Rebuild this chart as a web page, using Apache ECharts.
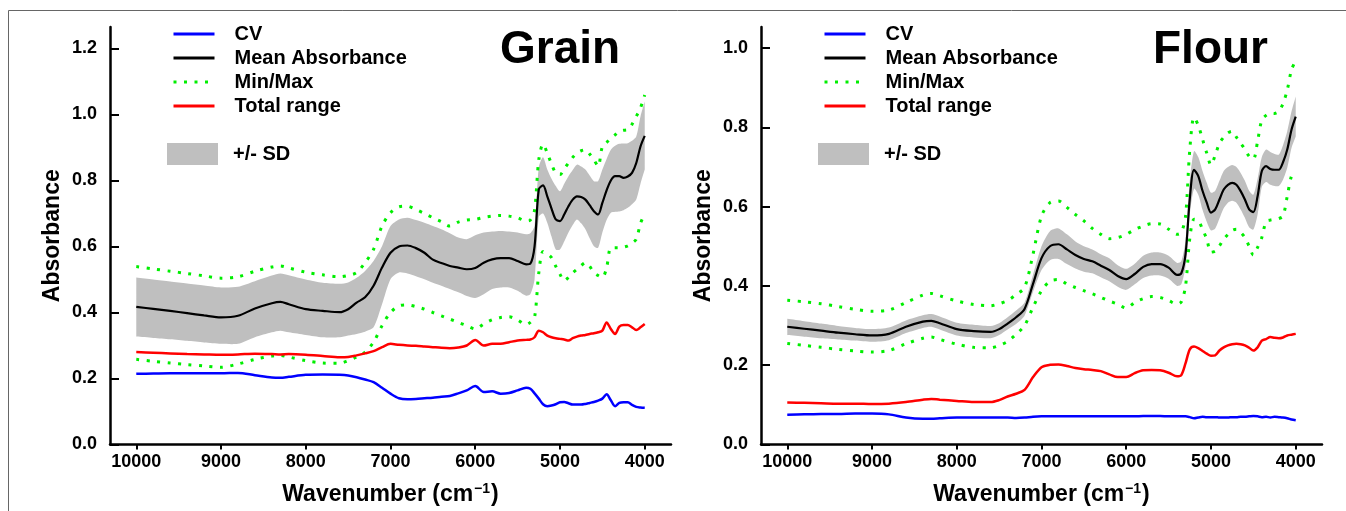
<!DOCTYPE html>
<html>
<head>
<meta charset="utf-8">
<title>Grain / Flour NIR spectra</title>
<script src="https://cdn.jsdelivr.net/npm/echarts@6/dist/echarts.min.js"></script>
<style>
  html, body { margin: 0; padding: 0; background: #fff; }
  #main { width: 1346px; height: 511px; }
</style>
</head>
<body>
<div id="main"></div>
<script>
// wavenumber grid (cm-1)
var wavenumbers = [10000, 9800, 9600, 9400, 9200, 9000, 8800, 8600, 8400, 8300, 8200,
    8000, 7800, 7600, 7500, 7400, 7300, 7200, 7100, 7000,
    6900, 6800, 6700, 6600, 6500, 6400, 6300, 6200, 6100, 6000,
    5900, 5800, 5700, 5600, 5500, 5400, 5350, 5300, 5250, 5200,
    5150, 5100, 5050, 5000, 4950, 4900, 4850, 4800, 4750, 4700,
    4650, 4600, 4550, 4500, 4450, 4400, 4350, 4300, 4250, 4200,
    4150, 4100, 4050, 4000];

var xTicks = [10000, 9000, 8000, 7000, 6000, 5000, 4000];
var grainYTicks = [0, 0.2, 0.4, 0.6, 0.8, 1.0, 1.2];
var flourYTicks = [0, 0.2, 0.4, 0.6, 0.8, 1.0];

// ---- Grain ----
var grainCv = [0.214, 0.215, 0.216, 0.216, 0.216, 0.216, 0.217, 0.210, 0.203, 0.202, 0.205,
    0.211, 0.212, 0.211, 0.209, 0.204, 0.197, 0.189, 0.172, 0.154,
    0.140, 0.137, 0.138, 0.140, 0.142, 0.145, 0.147, 0.155, 0.164, 0.177,
    0.159, 0.161, 0.154, 0.156, 0.164, 0.172, 0.169, 0.155, 0.139, 0.122,
    0.116, 0.118, 0.122, 0.128, 0.129, 0.125, 0.121, 0.121, 0.121, 0.123,
    0.126, 0.129, 0.133, 0.139, 0.152, 0.134, 0.116, 0.126, 0.128, 0.128,
    0.120, 0.114, 0.112, 0.111];
var grainRange = [0.280, 0.278, 0.276, 0.274, 0.273, 0.272, 0.273, 0.275, 0.274, 0.273, 0.274,
    0.272, 0.268, 0.264, 0.265, 0.270, 0.276, 0.283, 0.295, 0.305,
    0.302, 0.300, 0.299, 0.297, 0.295, 0.293, 0.292, 0.294, 0.300, 0.317,
    0.300, 0.305, 0.305, 0.310, 0.315, 0.317, 0.318, 0.325, 0.345, 0.340,
    0.330, 0.325, 0.322, 0.320, 0.318, 0.315, 0.322, 0.327, 0.330, 0.332,
    0.335, 0.337, 0.340, 0.345, 0.370, 0.350, 0.335, 0.357, 0.362, 0.362,
    0.355, 0.347, 0.355, 0.365];
var grainMean = [0.417, 0.411, 0.405, 0.398, 0.391, 0.385, 0.390, 0.412, 0.428, 0.432, 0.425,
    0.410, 0.405, 0.401, 0.410, 0.430, 0.446, 0.481, 0.536, 0.581,
    0.600, 0.603, 0.595, 0.581, 0.560, 0.550, 0.541, 0.536, 0.531, 0.535,
    0.551, 0.561, 0.565, 0.565, 0.556, 0.546, 0.548, 0.600, 0.773, 0.785,
    0.752, 0.715, 0.682, 0.677, 0.697, 0.722, 0.742, 0.752, 0.750, 0.742,
    0.725, 0.707, 0.697, 0.732, 0.770, 0.800, 0.813, 0.813, 0.808, 0.812,
    0.823, 0.853, 0.903, 0.935];
var grainMax = [0.539, 0.532, 0.525, 0.518, 0.511, 0.504, 0.508, 0.525, 0.538, 0.541, 0.535,
    0.522, 0.514, 0.508, 0.512, 0.521, 0.551, 0.591, 0.662, 0.702,
    0.720, 0.722, 0.712, 0.700, 0.687, 0.675, 0.662, 0.674, 0.680, 0.682,
    0.688, 0.692, 0.694, 0.692, 0.687, 0.677, 0.680, 0.710, 0.863, 0.910,
    0.883, 0.850, 0.823, 0.818, 0.835, 0.853, 0.870, 0.883, 0.890, 0.893,
    0.880, 0.863, 0.843, 0.903, 0.915, 0.928, 0.938, 0.949, 0.952, 0.954,
    0.970, 0.994, 1.020, 1.059];
var grainMin = [0.258, 0.252, 0.247, 0.242, 0.238, 0.234, 0.244, 0.258, 0.268, 0.270, 0.265,
    0.254, 0.247, 0.246, 0.254, 0.265, 0.280, 0.310, 0.360, 0.400,
    0.420, 0.423, 0.418, 0.410, 0.400, 0.390, 0.380, 0.370, 0.360, 0.350,
    0.365, 0.378, 0.385, 0.387, 0.377, 0.363, 0.370, 0.385, 0.520, 0.585,
    0.578, 0.566, 0.540, 0.516, 0.496, 0.506, 0.520, 0.531, 0.542, 0.551,
    0.540, 0.521, 0.512, 0.506, 0.536, 0.596, 0.596, 0.596, 0.598, 0.602,
    0.610, 0.622, 0.670, 0.700];
var grainSdHigh = [0.506, 0.500, 0.494, 0.488, 0.482, 0.476, 0.478, 0.495, 0.512, 0.518, 0.513,
    0.500, 0.490, 0.487, 0.491, 0.505, 0.526, 0.556, 0.601, 0.662,
    0.682, 0.687, 0.680, 0.672, 0.662, 0.652, 0.640, 0.627, 0.622, 0.634,
    0.642, 0.645, 0.647, 0.645, 0.642, 0.637, 0.640, 0.662, 0.840, 0.870,
    0.833, 0.805, 0.783, 0.767, 0.790, 0.813, 0.832, 0.848, 0.842, 0.833,
    0.815, 0.798, 0.798, 0.833, 0.865, 0.893, 0.905, 0.911, 0.912, 0.913,
    0.920, 0.933, 0.994, 1.039];
var grainSdLow = [0.327, 0.323, 0.319, 0.314, 0.309, 0.305, 0.305, 0.325, 0.340, 0.345, 0.340,
    0.332, 0.325, 0.325, 0.330, 0.335, 0.342, 0.355, 0.425, 0.501,
    0.521, 0.518, 0.510, 0.501, 0.490, 0.481, 0.471, 0.461, 0.450, 0.444,
    0.455, 0.471, 0.476, 0.476, 0.466, 0.451, 0.455, 0.500, 0.690, 0.700,
    0.672, 0.630, 0.591, 0.591, 0.615, 0.642, 0.665, 0.682, 0.670, 0.652,
    0.625, 0.601, 0.596, 0.642, 0.680, 0.702, 0.705, 0.706, 0.710, 0.717,
    0.728, 0.742, 0.790, 0.833];

// ---- Flour ----
var flourCv = [0.075, 0.076, 0.077, 0.077, 0.078, 0.078, 0.076, 0.068, 0.065, 0.065, 0.066,
    0.068, 0.068, 0.068, 0.068, 0.068, 0.067, 0.068, 0.070, 0.071,
    0.071, 0.071, 0.071, 0.071, 0.071, 0.071, 0.071, 0.071, 0.071, 0.071,
    0.071, 0.072, 0.072, 0.072, 0.071, 0.071, 0.071, 0.071, 0.069, 0.066,
    0.068, 0.070, 0.069, 0.069, 0.069, 0.068, 0.068, 0.068, 0.069, 0.069,
    0.070, 0.070, 0.071, 0.072, 0.071, 0.069, 0.070, 0.068, 0.070, 0.069,
    0.068, 0.066, 0.063, 0.061];
var flourRange = [0.106, 0.105, 0.104, 0.103, 0.103, 0.102, 0.103, 0.107, 0.113, 0.115, 0.113,
    0.110, 0.107, 0.107, 0.112, 0.121, 0.128, 0.138, 0.170, 0.195,
    0.201, 0.202, 0.198, 0.193, 0.190, 0.188, 0.185, 0.177, 0.170, 0.170,
    0.180, 0.187, 0.188, 0.187, 0.181, 0.172, 0.175, 0.205, 0.240, 0.247,
    0.243, 0.236, 0.229, 0.224, 0.225, 0.237, 0.245, 0.250, 0.253, 0.254,
    0.253, 0.250, 0.244, 0.237, 0.245, 0.262, 0.266, 0.271, 0.269, 0.268,
    0.270, 0.275, 0.277, 0.279];
var flourMean = [0.297, 0.292, 0.287, 0.282, 0.278, 0.275, 0.279, 0.297, 0.310, 0.312, 0.306,
    0.291, 0.286, 0.284, 0.291, 0.305, 0.321, 0.342, 0.405, 0.470,
    0.500, 0.505, 0.492, 0.478, 0.468, 0.462, 0.451, 0.440, 0.425, 0.417,
    0.430, 0.448, 0.455, 0.455, 0.446, 0.428, 0.432, 0.480, 0.620, 0.693,
    0.677, 0.640, 0.610, 0.585, 0.593, 0.618, 0.643, 0.655, 0.660, 0.655,
    0.639, 0.618, 0.593, 0.586, 0.626, 0.690, 0.702, 0.695, 0.693, 0.693,
    0.712, 0.744, 0.794, 0.827];
var flourMax = [0.364, 0.360, 0.355, 0.348, 0.341, 0.336, 0.339, 0.358, 0.377, 0.381, 0.375,
    0.362, 0.353, 0.350, 0.355, 0.363, 0.378, 0.396, 0.480, 0.576,
    0.610, 0.614, 0.598, 0.580, 0.564, 0.545, 0.530, 0.519, 0.522, 0.530,
    0.542, 0.551, 0.557, 0.556, 0.543, 0.530, 0.535, 0.576, 0.744, 0.825,
    0.805, 0.770, 0.735, 0.705, 0.730, 0.760, 0.775, 0.786, 0.790, 0.775,
    0.760, 0.745, 0.727, 0.720, 0.765, 0.819, 0.830, 0.836, 0.835, 0.840,
    0.860, 0.894, 0.945, 0.968];
var flourMin = [0.255, 0.250, 0.245, 0.240, 0.236, 0.233, 0.237, 0.254, 0.268, 0.271, 0.265,
    0.253, 0.245, 0.244, 0.250, 0.260, 0.278, 0.300, 0.346, 0.388,
    0.412, 0.416, 0.405, 0.396, 0.388, 0.380, 0.371, 0.362, 0.354, 0.344,
    0.358, 0.368, 0.373, 0.371, 0.363, 0.354, 0.360, 0.400, 0.520, 0.568,
    0.565, 0.543, 0.518, 0.485, 0.488, 0.501, 0.518, 0.530, 0.540, 0.543,
    0.535, 0.522, 0.500, 0.478, 0.497, 0.522, 0.562, 0.566, 0.568, 0.570,
    0.576, 0.626, 0.677, 0.690];
var flourSdHigh = [0.317, 0.311, 0.305, 0.299, 0.294, 0.291, 0.295, 0.313, 0.326, 0.329, 0.323,
    0.307, 0.302, 0.299, 0.306, 0.321, 0.338, 0.358, 0.428, 0.500,
    0.538, 0.545, 0.530, 0.512, 0.500, 0.492, 0.480, 0.470, 0.452, 0.443,
    0.456, 0.476, 0.484, 0.484, 0.476, 0.458, 0.462, 0.515, 0.665, 0.740,
    0.725, 0.690, 0.660, 0.635, 0.640, 0.665, 0.690, 0.700, 0.705, 0.700,
    0.685, 0.665, 0.640, 0.630, 0.670, 0.725, 0.744, 0.738, 0.733, 0.731,
    0.755, 0.790, 0.840, 0.878];
var flourSdLow = [0.276, 0.272, 0.268, 0.265, 0.262, 0.259, 0.263, 0.281, 0.294, 0.297, 0.290,
    0.275, 0.270, 0.268, 0.276, 0.290, 0.304, 0.325, 0.385, 0.440,
    0.465, 0.468, 0.455, 0.444, 0.436, 0.432, 0.422, 0.412, 0.398, 0.390,
    0.404, 0.420, 0.426, 0.426, 0.418, 0.400, 0.404, 0.450, 0.580, 0.645,
    0.630, 0.592, 0.562, 0.540, 0.545, 0.570, 0.596, 0.610, 0.615, 0.610,
    0.593, 0.572, 0.548, 0.542, 0.580, 0.650, 0.662, 0.655, 0.652, 0.652,
    0.668, 0.698, 0.748, 0.777];

var fontFamily = '"Liberation Sans", Arial, Helvetica, sans-serif';
var bandColor = '#bfbfbf';
var greenDot = '#00ee00';

function pairs(ys) {
    return wavenumbers.map(function (w, i) { return [w, ys[i]]; });
}

function line(name, ys, idx, color, width, dotted) {
    return {
        name: name,
        type: 'line',
        xAxisIndex: idx,
        yAxisIndex: idx,
        data: pairs(ys),
        smooth: 0.3,
        symbol: 'none',
        silent: true,
        z: 3,
        itemStyle: { color: color },
        lineStyle: {
            color: color,
            width: width,
            type: dotted ? [3, 7.5] : 'solid',
            cap: 'butt'
        }
    };
}

// grey +/- SD band: one polygon through the upper edge, back along the lower edge
// (end points doubled so the smoothing keeps the ends square)
function band(low, high, idx) {
    return {
        name: '+/- SD',
        type: 'custom',
        xAxisIndex: idx,
        yAxisIndex: idx,
        silent: true,
        z: 1,
        itemStyle: { color: bandColor },
        data: wavenumbers.map(function (w, i) { return [w, low[i], high[i]]; }),
        encode: { x: 0, y: [1, 2] },
        renderItem: function (params, api) {
            if (params.dataIndex !== 0) return;
            var n = wavenumbers.length, pts = [], i;
            pts.push(api.coord([wavenumbers[0], high[0]]));
            for (i = 0; i < n; i++) pts.push(api.coord([wavenumbers[i], high[i]]));
            pts.push(api.coord([wavenumbers[n - 1], high[n - 1]]));
            pts.push(api.coord([wavenumbers[n - 1], low[n - 1]]));
            for (i = n - 1; i >= 0; i--) pts.push(api.coord([wavenumbers[i], low[i]]));
            pts.push(api.coord([wavenumbers[0], low[0]]));
            return { type: 'polygon', shape: { points: pts, smooth: 0.25 }, style: { fill: bandColor } };
        }
    };
}

function xAxis(idx) {
    return {
        type: 'value',
        gridIndex: idx,
        min: 3690,
        max: 10310,
        inverse: true,
        z: 5,
        name: '{a|Wavenumber (cm}{s|\u22121}{a|)}',
        nameLocation: 'middle',
        nameGap: 38,
        nameTextStyle: {
            rich: {
                a: { fontSize: 23, fontWeight: 'bold', color: '#000', fontFamily: fontFamily },
                s: { fontSize: 14, fontWeight: 'bold', color: '#000', fontFamily: fontFamily, verticalAlign: 'top', padding: [0, 1, 10, 1] }
            }
        },
        axisLine: { show: true, onZero: false, lineStyle: { color: '#000', width: 2.5 } },
        axisTick: { show: true, inside: false, length: 5, customValues: xTicks, lineStyle: { color: '#000', width: 2 } },
        axisLabel: {
            customValues: xTicks, margin: 9,
            formatter: function (v) { return String(v); },
            fontSize: 18, fontWeight: 'bold', color: '#000', fontFamily: fontFamily
        },
        splitLine: { show: false }
    };
}

function yAxis(idx, max, ticks) {
    return {
        type: 'value',
        gridIndex: idx,
        min: 0,
        max: max,
        interval: 0.2,
        z: 5,
        name: 'Absorbance',
        nameLocation: 'middle',
        nameGap: 46,
        nameTextStyle: { fontSize: 23, fontWeight: 'bold', color: '#000', fontFamily: fontFamily },
        axisLine: { show: true, onZero: false, lineStyle: { color: '#000', width: 2.5 } },
        axisTick: { show: true, inside: true, length: 9, customValues: ticks, lineStyle: { color: '#000', width: 2 } },
        axisLabel: {
            customValues: ticks, margin: 13,
            formatter: function (v) { return v.toFixed(1); },
            fontSize: 18, fontWeight: 'bold', color: '#000', fontFamily: fontFamily
        },
        splitLine: { show: false }
    };
}

var legendText = { fontSize: 20, fontWeight: 'bold', color: '#000', fontFamily: fontFamily };

function legends(left) {
    return [{
        orient: 'vertical',
        left: left,
        top: 24,
        padding: 0,
        itemWidth: 41,
        itemHeight: 14,
        itemGap: 4,
        selectedMode: false,
        itemStyle: { opacity: 0 },
        lineStyle: { width: 3 },
        data: ['CV', 'Mean Absorbance', 'Min/Max', 'Total range'],
        textStyle: Object.assign({ padding: [0, 0, 0, 15] }, legendText)
    }, {
        left: left - 5,
        top: 143,
        padding: 0,
        itemWidth: 51,
        itemHeight: 22,
        selectedMode: false,
        data: [{ name: '+/- SD', icon: 'rect', itemStyle: { color: bandColor } }],
        textStyle: Object.assign({ padding: [0, 0, 0, 10] }, legendText)
    }];
}

var titleText = { fontSize: 46, fontWeight: 'bold', color: '#000', fontFamily: fontFamily };

var option = {
    backgroundColor: '#fff',
    animation: false,
    title: [
        { text: 'Grain', left: 500, top: 27, padding: 0, textStyle: titleText },
        { text: 'Flour', left: 1153, top: 27, padding: 0, textStyle: titleText }
    ],
    legend: legends(172).concat(legends(823)),
    grid: [
        { left: 110, right: 675, top: 27, bottom: 65 },
        { left: 761, right: 24, top: 27, bottom: 65 }
    ],
    xAxis: [xAxis(0), xAxis(1)],
    yAxis: [yAxis(0, 1.265, grainYTicks), yAxis(1, 1.053, flourYTicks)],
    graphic: [
        { type: 'line', silent: true, shape: { x1: 8.5, y1: 10.5, x2: 1346, y2: 10.5 }, style: { stroke: '#666', lineWidth: 1 } },
        { type: 'line', silent: true, shape: { x1: 8.5, y1: 10.5, x2: 8.5, y2: 511 }, style: { stroke: '#666', lineWidth: 1 } }
    ],
    series: [
        band(grainSdLow, grainSdHigh, 0),
        line('Min/Max', grainMax, 0, greenDot, 3, true),
        line('Min/Max', grainMin, 0, greenDot, 3, true),
        line('Total range', grainRange, 0, '#ff0000', 2.5),
        line('CV', grainCv, 0, '#0000ff', 2.5),
        line('Mean Absorbance', grainMean, 0, '#000000', 2.2),

        band(flourSdLow, flourSdHigh, 1),
        line('Min/Max', flourMax, 1, greenDot, 3, true),
        line('Min/Max', flourMin, 1, greenDot, 3, true),
        line('Total range', flourRange, 1, '#ff0000', 2.5),
        line('CV', flourCv, 1, '#0000ff', 2.5),
        line('Mean Absorbance', flourMean, 1, '#000000', 2.2)
    ]
};

var myChart = echarts.init(document.getElementById('main'));
myChart.setOption(option);
</script>
</body>
</html>
